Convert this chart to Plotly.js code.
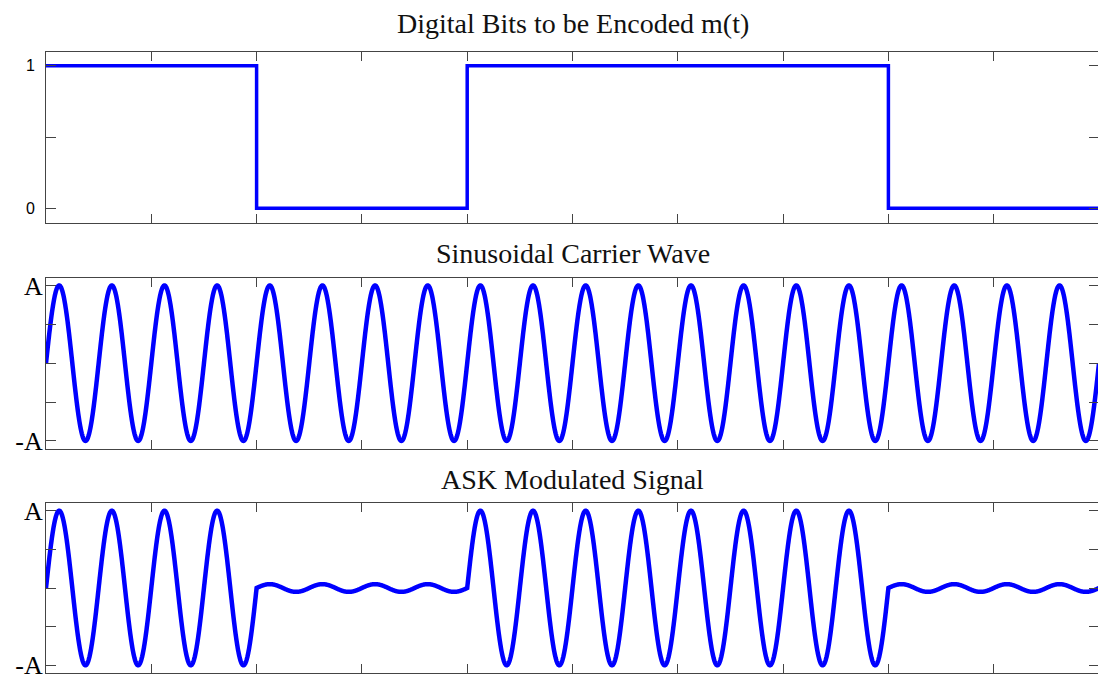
<!DOCTYPE html>
<html>
<head>
<meta charset="utf-8">
<script src="https://cdn.plot.ly/plotly-3.0.1.min.js"></script>
<style>
html,body{margin:0;padding:0;overflow:hidden;background:#fff;}
#chart{width:1100px;height:677px;}
</style>
</head>
<body>
<div id="chart"></div>
<script>
// ---- data ----
var bits = [1, 0, 1, 1, 0];
var cyclesPerBit = 4;          // carrier cycles per bit period
var carrierAmplitude = 1;      // A
var offAmplitude = 0.05;       // residual amplitude for a 0 bit in ASK
var titles = ['Digital Bits to be Encoded m(t)', 'Sinusoidal Carrier Wave', 'ASK Modulated Signal'];
var bitTickVals = [0, 0.5, 1];
var bitTickText = ['0', '', '1'];
var ampTickVals = [-1, -0.5, 0, 0.5, 1];
var ampTickText = ['-A', '', '', '', 'A'];
var xTickVals = [0, 0.5, 1, 1.5, 2, 2.5, 3, 3.5, 4, 4.5, 5];

// ---- build traces ----
var stepX = [], stepY = [];
for (var i = 0; i < bits.length; i++) { stepX.push(i); stepY.push(bits[i]); }
stepX.push(bits.length); stepY.push(bits[bits.length - 1]);

var N = 4000, tArr = [], carrier = [], ask = [];
for (var k = 0; k <= N; k++) {
  var t = k * bits.length / N;
  var c = carrierAmplitude * Math.sin(2 * Math.PI * cyclesPerBit * t);
  var idx = Math.min(Math.floor(t), bits.length - 1);
  tArr.push(t);
  carrier.push(c);
  ask.push(bits[idx] === 1 ? c : offAmplitude * c);
}

var blue = '#0000ff';
var traces = [
  {x: stepX, y: stepY, type: 'scatter', mode: 'lines', line: {shape: 'hv', color: blue, width: 3.5}, xaxis: 'x', yaxis: 'y', hoverinfo: 'skip'},
  {x: tArr, y: carrier, type: 'scatter', mode: 'lines', line: {color: blue, width: 4.5, simplify: false}, xaxis: 'x2', yaxis: 'y2', hoverinfo: 'skip'},
  {x: tArr, y: ask, type: 'scatter', mode: 'lines', line: {color: blue, width: 4.5, simplify: false}, xaxis: 'x3', yaxis: 'y3', hoverinfo: 'skip'}
];

var frame = '#444444';
function xax(anchor) {
  return {anchor: anchor, domain: [0, 1], range: [0, bits.length], tickmode: 'array', tickvals: xTickVals,
    showticklabels: false, ticks: 'inside', ticklen: 9, tickcolor: frame, tickwidth: 1,
    showline: true, linecolor: frame, linewidth: 1, mirror: 'ticks', showgrid: false, zeroline: false, fixedrange: true};
}
function yax(anchor, dom, rng, vals, text, font, standoff) {
  return {anchor: anchor, domain: dom, range: rng, tickmode: 'array', tickvals: vals, ticktext: text,
    ticks: 'inside', ticklen: 10, tickcolor: frame, tickwidth: 1, tickfont: font, ticklabelstandoff: standoff,
    ticklabeloverflow: 'allow',
    showline: true, linecolor: frame, linewidth: 1, mirror: 'ticks', showgrid: false, zeroline: false, fixedrange: true};
}
var serif = 'Liberation Serif, Times New Roman, serif';
var ampFont = {family: serif, size: 26, color: '#000'};
var bitFont = {family: 'Liberation Sans, Arial, sans-serif', size: 16, color: '#000'};

var layout = {
  width: 1100, height: 677,
  margin: {l: 46, r: 1, t: 0, b: 0},
  paper_bgcolor: '#fff', plot_bgcolor: '#fff',
  showlegend: false,
  xaxis: xax('y'),
  xaxis2: xax('y2'),
  xaxis3: xax('y3'),
  yaxis: yax('x', [0.6713, 0.9239], [-0.1, 1.1], bitTickVals, bitTickText, bitFont, 7),
  yaxis2: yax('x2', [0.3372, 0.5898], [-1.1, 1.1], ampTickVals, ampTickText, ampFont, -3),
  yaxis3: yax('x3', [0.0059, 0.2570], [-1.1, 1.1], ampTickVals, ampTickText, ampFont, -3),
  annotations: [
    {text: titles[0], xref: 'paper', yref: 'paper', x: 0.5, y: (677 - 23) / 677, xanchor: 'center', yanchor: 'middle', showarrow: false, font: {family: serif, size: 28, color: '#111'}},
    {text: titles[1], xref: 'paper', yref: 'paper', x: 0.5, y: (677 - 253) / 677, xanchor: 'center', yanchor: 'middle', showarrow: false, font: {family: serif, size: 28, color: '#111'}},
    {text: titles[2], xref: 'paper', yref: 'paper', x: 0.5, y: (677 - 479) / 677, xanchor: 'center', yanchor: 'middle', showarrow: false, font: {family: serif, size: 28, color: '#111'}}
  ]
};

Plotly.newPlot('chart', traces, layout, {displayModeBar: false, staticPlot: true});
</script>
</body>
</html>
